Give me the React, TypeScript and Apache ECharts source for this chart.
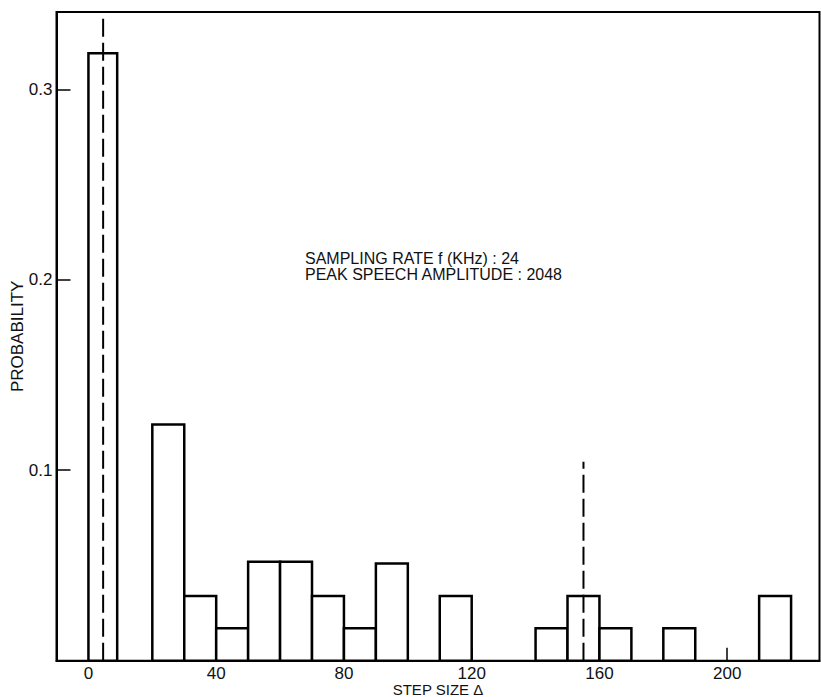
import React, { useEffect, useRef } from "react";
import * as echarts from "echarts";

// Histogram bins (step size Δ) and probabilities
const binStart = [0, 20, 30, 40, 50, 60, 70, 80, 90, 110, 140, 150, 160, 180, 210];
const binEnd = [9, 30, 40, 50, 60, 70, 80, 90, 100, 120, 150, 160, 170, 190, 220];
const probability = [0.319, 0.124, 0.034, 0.017, 0.052, 0.052, 0.034, 0.017, 0.051, 0.034, 0.017, 0.034, 0.017, 0.017, 0.034];

const xTickValues = [0, 40, 80, 120, 160, 200];
const yTickValues = [0.1, 0.2, 0.3];

// dashed marker lines: x position and top value
const marker1 = [[4.6, 0], [4.6, 0.3406]];
const marker2 = [[155, 0], [155, 0.1045]];

const annotationLines = ["SAMPLING RATE f (KHz) : 24", "PEAK SPEECH AMPLITUDE : 2048"];

const FONT = "'Liberation Sans', Arial, Helvetica, sans-serif";

export default function App() {
  const ref = useRef<HTMLDivElement>(null);
  useEffect(() => {
    if (!ref.current) return;
    const chart = echarts.init(ref.current, undefined, { renderer: "svg" });
    const barData = binStart.map((s, i) => [s, binEnd[i], probability[i]]);
    chart.setOption({
      animation: false,
      backgroundColor: "#fff",
      grid: {
        left: 56.5,
        top: 12,
        width: 763,
        height: 648.7,
        show: true,
        borderColor: "#000",
        borderWidth: 2,
        containLabel: false,
        outerBoundsMode: "none",
      },
      xAxis: {
        type: "value",
        min: -10,
        max: 228.9,
        name: "STEP SIZE Δ",
        nameLocation: "middle",
        nameGap: 21,
        nameMoveOverlap: false,
        nameTextStyle: { color: "#111", fontSize: 15, fontFamily: FONT },
        axisLine: { show: true, onZero: false, lineStyle: { color: "#000", width: 2 } },
        axisTick: {
          show: true,
          inside: true,
          length: 13,
          customValues: xTickValues,
          lineStyle: { color: "#000", width: 1.5 },
        },
        axisLabel: {
          customValues: xTickValues,
          margin: 4,
          color: "#111",
          fontSize: 17,
          fontFamily: FONT,
        },
        splitLine: { show: false },
      },
      yAxis: {
        type: "value",
        min: 0,
        max: 0.3406,
        name: "PROBABILITY",
        nameLocation: "middle",
        nameGap: 31,
        nameMoveOverlap: false,
        nameTextStyle: { color: "#111", fontSize: 17, fontFamily: FONT },
        axisLine: { show: true, onZero: false, lineStyle: { color: "#000", width: 2 } },
        axisTick: {
          show: true,
          inside: true,
          length: 14,
          customValues: yTickValues,
          lineStyle: { color: "#000", width: 1.5 },
        },
        axisLabel: {
          customValues: yTickValues,
          margin: 4,
          color: "#111",
          fontSize: 17,
          fontFamily: FONT,
          formatter: (v: number) => v.toFixed(1),
        },
        splitLine: { show: false },
      },
      graphic: annotationLines.map((t, i) => ({
        type: "text",
        left: 305,
        top: 250 + i * 16,
        style: {
          text: t,
          fill: "#111",
          fontSize: 16,
          fontFamily: FONT,
        },
      })),
      series: [
        {
          type: "custom",
          data: barData,
          encode: { x: [0, 1], y: 2 },
          z: 2,
          renderItem: (params: any, api: any) => {
            const x0 = api.value(0);
            const x1 = api.value(1);
            const y = api.value(2);
            const p0 = api.coord([x0, y]);
            const p1 = api.coord([x1, 0]);
            return {
              type: "rect",
              shape: { x: p0[0], y: p0[1], width: p1[0] - p0[0], height: p1[1] - p0[1] },
              style: { fill: "#fff", stroke: "#000", lineWidth: 2.5 },
            };
          },
        },
        {
          type: "line",
          data: marker1,
          showSymbol: false,
          symbol: "none",
          z: 5,
          lineStyle: { color: "#000", width: 2, type: [18, 6] },
        },
        {
          type: "line",
          data: marker2,
          showSymbol: false,
          symbol: "none",
          z: 5,
          lineStyle: { color: "#000", width: 2, type: [18, 6] },
        },
      ],
    });
    return () => chart.dispose();
  }, []);
  return (
    <div
      ref={ref}
      style={{ position: "absolute", left: 0, top: 0, width: 821, height: 697 }}
    />
  );
}
